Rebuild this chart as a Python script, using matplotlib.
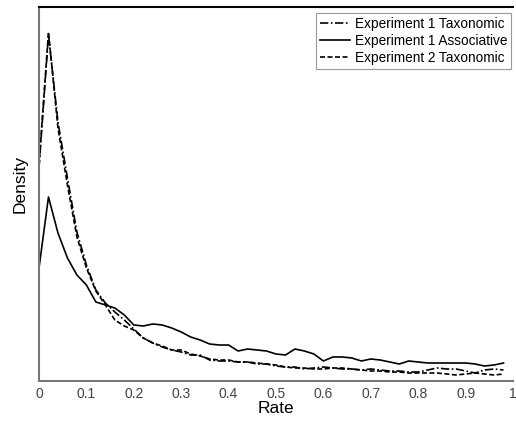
import numpy as np
import matplotlib.pyplot as plt

plt.rcParams['font.family'] = ['Liberation Sans', 'DejaVu Sans']

# density curves (values x100)
rate = np.round(np.arange(0, 0.99, 0.02), 2)

exp1_tax = [213, 346, 259, 203, 149, 116, 91, 78, 69, 61,
            52, 43, 38, 34, 31, 29, 26, 26, 21, 20,
            20, 19, 19, 17, 17, 15, 14, 14, 12, 13,
            14, 13, 12, 12, 11, 12, 11, 10, 10, 9,
            9, 11, 13, 12, 12, 10, 8, 11, 12, 11]

exp1_assoc = [113, 184, 148, 123, 106, 96, 79, 76, 73, 66,
              56, 55, 57, 56, 53, 49, 44, 41, 37, 36,
              36, 30, 32, 31, 30, 27, 26, 32, 30, 27,
              20, 24, 24, 23, 20, 22, 21, 19, 17, 20,
              19, 18, 18, 18, 18, 18, 17, 15, 16, 18]

exp2_tax = [216, 349, 253, 196, 144, 113, 90, 76, 61, 55,
            51, 43, 38, 35, 31, 31, 27, 25, 22, 21,
            21, 19, 19, 18, 17, 16, 14, 13, 13, 12,
            12, 13, 13, 12, 11, 10, 10, 9, 9, 8,
            8, 8, 8, 7, 6, 7, 8, 7, 6, 7]

fig = plt.figure(figsize=(5.16, 4.23), dpi=100)
ax = fig.add_axes([39 / 516, 1 - 381 / 423, (513 - 39) / 516, (381 - 7) / 423])

ax.plot(rate, np.array(exp1_tax) / 100, color='black', lw=1.2,
        linestyle=(0, (5, 1.5, 1, 1.5)), label='Experiment 1 Taxonomic')
ax.plot(rate, np.array(exp1_assoc) / 100, color='black', lw=1.2,
        linestyle='-', label='Experiment 1 Associative')
ax.plot(rate, np.array(exp2_tax) / 100, color='black', lw=1.2,
        linestyle=(0, (3, 1.5)), label='Experiment 2 Taxonomic')

ax.set_xlim(0, 1)
ax.set_ylim(0, 3.74)
ax.set_xticks(np.round(np.arange(0, 1.01, 0.1), 1))
ax.set_xticklabels(['0', '0.1', '0.2', '0.3', '0.4', '0.5', '0.6', '0.7', '0.8', '0.9', '1'])
ax.set_yticks([])
ax.tick_params(axis='x', length=0, pad=4, labelsize=10, labelcolor='#444444')

for s in ['left', 'bottom']:
    ax.spines[s].set_color('#777777')
    ax.spines[s].set_linewidth(1.5)
ax.spines['top'].set_color('black')
ax.spines['top'].set_linewidth(1.5)
ax.spines['right'].set_visible(False)

ax.set_xlabel('Rate', fontsize=12.5, labelpad=0)
ax.set_ylabel('Density', fontsize=12.5)
ax.yaxis.set_label_coords(-0.024, 0.527)

leg = ax.legend(loc='upper right', bbox_to_anchor=(0.996, 0.984), borderaxespad=0,
                fontsize=9.8, fancybox=False, framealpha=1, handlelength=2.2,
                handletextpad=0.3, borderpad=0.3, labelspacing=0.2)
leg.get_frame().set_edgecolor('#999999')
leg.get_frame().set_linewidth(0.8)

fig.savefig('out.png', dpi=100)
